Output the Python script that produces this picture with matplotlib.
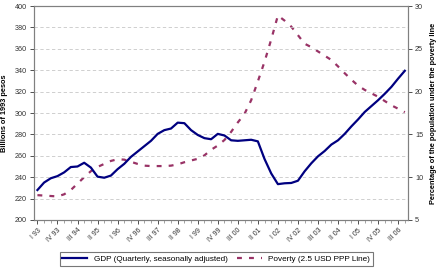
# GDP vs poverty, Argentina 1993-2006 (quarterly)
import numpy as np
import matplotlib.pyplot as plt

plt.rcParams["font.family"] = ["Liberation Sans", "DejaVu Sans"]

years = list(range(93, 100)) + list(range(0, 7))
roman = ["I", "II", "III", "IV"]
quarters = [f"{r} {y:02d}" for y in years for r in roman]

gdp = [228, 235, 239, 241, 244.5, 249.5, 250, 253.5, 249, 240.5, 239.5, 241.5,
       247.5, 252.5, 259, 264, 269, 274, 280.5, 284, 285.5, 291, 290.5, 284,
       279.5, 276.5, 275.5, 280.5, 279, 274.5, 274, 274.5, 275, 273.5, 257, 243.5,
       233.5, 234.3, 234.6, 236.7, 245.5, 253, 259.5, 264.5, 270.5, 274.5, 280.5, 287.5,
       294, 301, 306.5, 312, 318, 324.5, 332.2, 339.5]

poverty = [7.9, 7.85, 7.8, 7.75, 8.0, 8.5, 9.25, 10.0, 10.7, 11.2, 11.55, 11.9,
           12.1, 12.05, 11.8, 11.55, 11.35, 11.3, 11.3, 11.3, 11.35, 11.5, 11.75, 11.95,
           12.15, 12.55, 13.2, 13.7, 14.35, 15.3, 16.4, 17.4, 19.0, 21.2, 23.5, 26.1,
           28.9, 28.3, 27.6, 26.6, 25.6, 25.2, 24.7, 24.2, 23.7, 22.95, 22.15, 21.4,
           20.7, 20.2, 19.8, 19.4, 18.9, 18.4, 18.0, 17.6]

x = np.arange(len(quarters))

fig = plt.figure(figsize=(4.37, 2.76), dpi=100)
ax = fig.add_axes([0.078, 0.203, 0.856, 0.775])
ax2 = ax.twinx()

ax.set_zorder(ax2.get_zorder() + 1)
ax.patch.set_visible(False)

l1, = ax.plot(x, gdp, color="#000080", lw=1.6, label="GDP (Quarterly, seasonally adjusted)")
l2, = ax2.plot(x, poverty, color="#993366", lw=1.6, ls=(0, (2.2, 3.2)),
               label="Poverty (2.5 USD PPP Line)")

ax.set_xlim(-0.5, len(x) - 0.5)
ax.set_ylim(200, 400)
ax2.set_ylim(5, 30)
ax.set_yticks(range(200, 401, 20))
ax2.set_yticks(range(5, 31, 5))

for v in range(220, 400, 20):
    ax.axhline(v, color="#c8c8c8", lw=0.6, ls=(0, (4, 3)), zorder=0)

ax.set_xticks(x[::3])
ax.set_xticklabels(quarters[::3], rotation=45, ha="right", rotation_mode="anchor")
ax.set_xticks(x, minor=True)

for a in (ax, ax2):
    for s in a.spines.values():
        s.set_color("#808080")
        s.set_linewidth(0.8)
    a.tick_params(colors="#333333", labelsize=5.2, length=3, width=0.6, pad=2)
    a.tick_params(which="minor", length=2, width=0.5, color="#808080")
ax.tick_params(axis="x", labelsize=5, pad=2)

ax.set_ylabel("Billions of 1993 pesos", fontsize=5.3, fontweight="bold", labelpad=5)
ax2.set_ylabel("Percentage of the population under the poverty line",
               fontsize=5.3, fontweight="bold", labelpad=5)

leg = fig.legend([l1, l2], [l1.get_label(), l2.get_label()], loc="center",
                 bbox_to_anchor=(0.495, 0.062), ncol=2, fontsize=5.9, frameon=True,
                 fancybox=False, edgecolor="#555555", handlelength=3.0,
                 columnspacing=1.2, borderpad=0.35)
leg.get_frame().set_linewidth(0.8)

fig.savefig("out.png", dpi=100)
